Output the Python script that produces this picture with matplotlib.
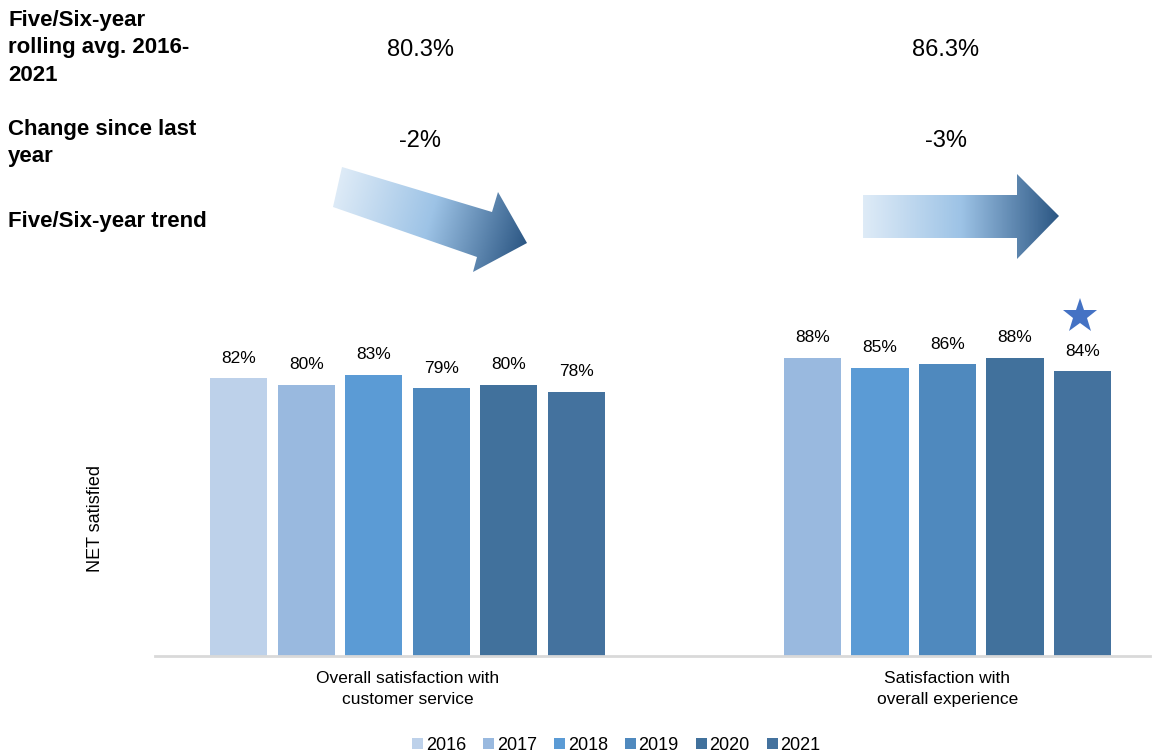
import numpy as np
import matplotlib.pyplot as plt
from matplotlib.patches import Polygon
from matplotlib.colors import LinearSegmentedColormap

plt.rcParams['font.family'] = ['Liberation Sans', 'DejaVu Sans']

years = ['2016', '2017', '2018', '2019', '2020', '2021']
year_colors = ['#BDD1EA', '#99B9DF', '#5B9BD5', '#4F89BE', '#41719C', '#44729E']
categories = ['Overall satisfaction with\ncustomer service',
              'Satisfaction with\noverall experience']
# values per category, None where the year is missing
values = [[82, 80, 83, 79, 80, 78],
          [None, 88, 85, 86, 88, 84]]
rolling_avg = ['80.3%', '86.3%']
change = ['-2%', '-3%']
row_labels = ['Five/Six-year\nrolling avg. 2016-\n2021', 'Change since last\nyear', 'Five/Six-year trend']

group_gap = 7.5
bar_width = 0.85

fig = plt.figure(figsize=(11.52, 7.55), dpi=100)

# overlay for the header rows and arrows, in pixel coordinates
ov = fig.add_axes([0, 0, 1, 1])
ov.set_xlim(0, 1152)
ov.set_ylim(755, 0)
ov.axis('off')

ax = fig.add_axes([155 / 1152, 99 / 755, 995 / 1152, 339 / 755])
ax.patch.set_visible(False)

label_x = []
for g, vals in enumerate(values):
    xs = []
    for i, v in enumerate(vals):
        if v is None:
            continue
        x = g * group_gap + i
        xs.append(x)
        ax.bar(x, v, width=bar_width, color=year_colors[i], label=years[i] if g == 0 else None)
        ax.annotate(f'{v}%', (x, v), xytext=(0, 9), textcoords='offset points',
                    ha='center', va='bottom', fontsize=12.5)
    label_x.append(np.mean(xs))

ax.set_xlim(-1.24, 13.5)
ax.set_ylim(0, 100)
ax.set_xticks(label_x)
ax.set_xticklabels(categories, fontsize=12.5, linespacing=1.45)
ax.tick_params(axis='x', length=0, pad=11)
ax.set_yticks([])
for s in ['top', 'right', 'left']:
    ax.spines[s].set_visible(False)
ax.spines['bottom'].set_color('#D9D9D9')
ax.spines['bottom'].set_linewidth(2)
ax.set_ylabel('NET satisfied', fontsize=13)
ax.yaxis.set_label_coords(-0.051, 0.407)

leg = ax.legend(loc='upper center', bbox_to_anchor=(0.5 - 36 / 995, -0.19), ncol=6, frameon=False,
                fontsize=13, handlelength=0.6, handleheight=0.6, handletextpad=0.15, columnspacing=0.95)

ov.text(8, 10, row_labels[0], fontsize=16, fontweight='bold', va='top', ha='left', linespacing=1.4)
ov.text(8, 119, row_labels[1], fontsize=16, fontweight='bold', va='top', ha='left', linespacing=1.4)
ov.text(8, 211, row_labels[2], fontsize=16, fontweight='bold', va='top', ha='left')

head_x = [420, 946]
for g in range(2):
    ov.text(head_x[g], 50, rolling_avg[g], fontsize=17, ha='center', va='center')
    ov.text(head_x[g], 141, change[g], fontsize=17, ha='center', va='center')

grad = LinearSegmentedColormap.from_list('arrow', ['#DEEBF7', '#9DC3E6', '#2C5784'])


def gradient_arrow(pts, direction):
    pts = np.array(pts, dtype=float)
    poly = Polygon(pts, closed=True, facecolor='none', edgecolor='none')
    ov.add_patch(poly)
    x0, x1 = pts[:, 0].min(), pts[:, 0].max()
    y0, y1 = pts[:, 1].min(), pts[:, 1].max()
    xx, yy = np.meshgrid(np.linspace(x0, x1, 300), np.linspace(y0, y1, 200))
    d = np.array(direction) / np.hypot(*direction)
    proj = (xx - x0) * d[0] + (yy - y0) * d[1]
    corners = (pts[:, 0] - x0) * d[0] + (pts[:, 1] - y0) * d[1]
    proj = (proj - corners.min()) / (corners.max() - corners.min())
    im = ov.imshow(proj, cmap=grad, extent=(x0, x1, y1, y0), origin='upper',
                   aspect='auto', vmin=0, vmax=1, interpolation='bilinear')
    im.set_clip_path(poly)


gradient_arrow([(342, 167), (492, 212), (498, 192), (527, 243), (473, 272), (477, 257), (333, 207)],
               (527 - 337, 243 - 187))
gradient_arrow([(863, 195), (1017, 195), (1017, 174), (1059, 216), (1017, 259), (1017, 238), (863, 238)],
               (1, 0))
ov.set_xlim(0, 1152)
ov.set_ylim(755, 0)

ov.plot(1080, 316, marker='*', markersize=26, color='#4472C4', markeredgewidth=0)

fig.savefig('out.png', dpi=100)
